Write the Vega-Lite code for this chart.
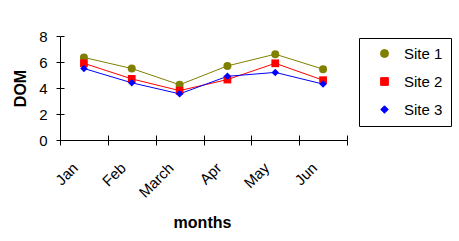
{
  "$schema": "https://vega.github.io/schema/vega-lite/v6.json",
  "width": 287,
  "height": 104,
  "autosize": "none",
  "padding": {"left": 60, "top": 36, "right": 112, "bottom": 101},
  "background": "white",
  "config": {"view": {"stroke": null}, "font": "Liberation Sans"},
  "data": {
    "values": [
      {"month": "Jan", "site": "Site 1", "value": 6.35},
      {"month": "Feb", "site": "Site 1", "value": 5.5},
      {"month": "March", "site": "Site 1", "value": 4.25},
      {"month": "Apr", "site": "Site 1", "value": 5.7},
      {"month": "May", "site": "Site 1", "value": 6.6},
      {"month": "Jun", "site": "Site 1", "value": 5.45},
      {"month": "Jan", "site": "Site 2", "value": 5.9},
      {"month": "Feb", "site": "Site 2", "value": 4.7},
      {"month": "March", "site": "Site 2", "value": 3.8},
      {"month": "Apr", "site": "Site 2", "value": 4.65},
      {"month": "May", "site": "Site 2", "value": 5.9},
      {"month": "Jun", "site": "Site 2", "value": 4.6},
      {"month": "Jan", "site": "Site 3", "value": 5.5},
      {"month": "Feb", "site": "Site 3", "value": 4.4},
      {"month": "March", "site": "Site 3", "value": 3.55},
      {"month": "Apr", "site": "Site 3", "value": 4.9},
      {"month": "May", "site": "Site 3", "value": 5.2},
      {"month": "Jun", "site": "Site 3", "value": 4.3}
    ]
  },
  "encoding": {
    "color": {
      "field": "site", "type": "nominal",
      "scale": {"domain": ["Site 1", "Site 2", "Site 3"], "range": ["#808000", "#FF0000", "#0000FF"]},
      "legend": {
        "orient": "none", "legendX": 299, "legendY": 2, "title": null,
        "strokeColor": "black", "fillColor": "white", "padding": 8, "cornerRadius": 0,
        "symbolOffset": 10, "labelOffset": 12, "rowPadding": 12, "symbolSize": 64,
        "symbolStrokeWidth": 1, "labelFontSize": 15, "labelColor": "black", "labelFont": "Liberation Sans"
      }
    }
  },
  "layer": [
    {
      "mark": {"type": "line", "strokeWidth": 1},
      "encoding": {
        "x": {
          "field": "month", "type": "ordinal",
          "sort": ["Jan", "Feb", "March", "Apr", "May", "Jun"],
          "scale": {"type": "band", "paddingInner": 0, "paddingOuter": 0},
          "axis": {
            "orient": "bottom", "title": "months", "titleFontSize": 16, "titleFontWeight": "bold",
            "titleColor": "black", "titleX": 142, "titleY": 82, "titleBaseline": "middle", "titleAlign": "center",
            "labelAngle": -45, "labelAlign": "right", "labelBaseline": "middle", "labelFontSize": 15,
            "labelColor": "black", "labelPadding": 20, "labelOffset": -9,
            "tickSize": 5, "tickBand": "extent", "tickColor": "black", "domainColor": "black", "grid": false
          }
        },
        "y": {
          "field": "value", "type": "quantitative",
          "scale": {"domain": [0, 8]},
          "axis": {
            "orient": "left", "title": "DOM", "titleFontSize": 16, "titleFontWeight": "bold",
            "titleColor": "black", "titleX": -40, "titleY": 52, "titleBaseline": "middle", "titleAlign": "center",
            "values": [0, 2, 4, 6, 8], "labelFontSize": 15, "labelColor": "black", "labelPadding": 9,
            "tickSize": 4, "tickColor": "black", "domainColor": "black", "grid": false
          }
        }
      }
    },
    {
      "mark": {"type": "point", "filled": true, "opacity": 1},
      "encoding": {
        "x": {
          "field": "month", "type": "ordinal",
          "sort": ["Jan", "Feb", "March", "Apr", "May", "Jun"],
          "scale": {"type": "band", "paddingInner": 0, "paddingOuter": 0},
          "axis": {
            "orient": "bottom", "title": null, "labels": false, "domain": false,
            "tickSize": -5, "tickBand": "extent", "tickColor": "black", "grid": false
          }
        },
        "y": {
          "field": "value", "type": "quantitative",
          "scale": {"domain": [0, 8]},
          "axis": {
            "orient": "left", "title": null, "labels": false, "domain": false,
            "values": [0, 2, 4, 6, 8], "tickSize": -4, "tickColor": "black", "grid": false
          }
        },
        "shape": {
          "field": "site", "type": "nominal",
          "scale": {"domain": ["Site 1", "Site 2", "Site 3"], "range": ["circle", "square", "diamond"]},
          "legend": null
        },
        "size": {
          "field": "site", "type": "ordinal",
          "scale": {"domain": ["Site 1", "Site 2", "Site 3"], "range": [64, 56, 100]},
          "legend": null
        }
      }
    }
  ],
  "resolve": {"axis": {"x": "independent", "y": "independent"}}
}
